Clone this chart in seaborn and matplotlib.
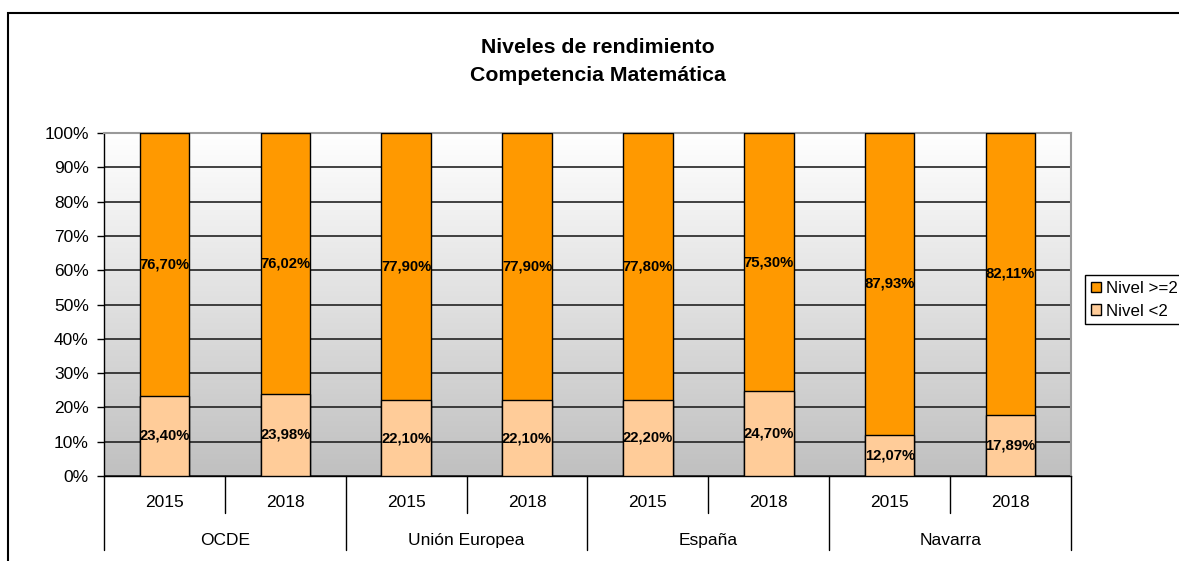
import numpy as np
import pandas as pd
import seaborn as sns
import matplotlib.pyplot as plt
from matplotlib.colors import LinearSegmentedColormap
from matplotlib.patches import Patch, Rectangle
import matplotlib.transforms as mtransforms

# Data
groups = ['OCDE', 'Unión Europea', 'España', 'Navarra']
years = ['2015', '2018']
nivel_bajo = [23.40, 23.98, 22.10, 22.10, 22.20, 24.70, 12.07, 17.89]   # Nivel <2
nivel_alto = [76.70, 76.02, 77.90, 77.90, 77.80, 75.30, 87.93, 82.11]   # Nivel >=2

slots = [g + ' ' + y for g in groups for y in years]
df = pd.DataFrame({'slot': slots, 'bajo': nivel_bajo, 'alto': nivel_alto})
df['total'] = df['bajo'] + df['alto']

sns.set_style('white')
plt.rcParams['font.family'] = ['Liberation Sans', 'DejaVu Sans']
plt.rcParams['text.color'] = 'black'
plt.rcParams['xtick.color'] = 'black'
plt.rcParams['ytick.color'] = 'black'

fig = plt.figure(figsize=(11.79, 5.61), dpi=100)
ax = fig.add_axes([0.0882, 0.1515, 0.8202, 0.6114])

c_alto = '#FF9900'
c_bajo = '#FFCC99'

sns.barplot(data=df, x='slot', y='total', order=slots, color=c_alto, saturation=1,
            width=0.41, edgecolor='black', linewidth=1, ax=ax, zorder=3)
sns.barplot(data=df, x='slot', y='bajo', order=slots, color=c_bajo, saturation=1,
            width=0.41, edgecolor='black', linewidth=1, ax=ax, zorder=3)

ax.set_xlim(-0.5, len(slots) - 0.5)
ax.set_ylim(0, 100)

# gradient plot background
cmap = LinearSegmentedColormap.from_list('bg', ['#FFFFFF', '#C0C0C0'])
ax.imshow(np.linspace(0, 1, 256).reshape(-1, 1), cmap=cmap, aspect='auto',
          extent=[-0.5, len(slots) - 0.5, 0, 100], zorder=0)

ax.set_yticks(np.arange(0, 101, 10))
ax.set_yticklabels([f'{v}%' for v in range(0, 101, 10)], fontsize=12.5)
ax.yaxis.grid(True, color='#222222', linewidth=1.2, zorder=1)
ax.set_axisbelow(True)
ax.tick_params(axis='y', length=5, width=1, color='black', left=True, pad=6)

for s in ['top', 'right']:
    ax.spines[s].set_color('#999999')
    ax.spines[s].set_linewidth(1.5)
ax.spines['left'].set_color('black')
ax.spines['bottom'].set_color('black')
ax.spines['left'].set_linewidth(1)
ax.spines['bottom'].set_linewidth(1)

ax.set_xlabel('')
ax.set_ylabel('')
ax.set_xticks([])

# value labels
for i, (b, a) in enumerate(zip(nivel_bajo, nivel_alto)):
    ax.text(i, b / 2, f'{b:.2f}%'.replace('.', ','), ha='center', va='center',
            fontsize=10.7, fontweight='bold', zorder=5)
    ax.text(i, b + a / 2, f'{a:.2f}%'.replace('.', ','), ha='center', va='center',
            fontsize=10.7, fontweight='bold', zorder=5)

# two-level category axis
trans = mtransforms.blended_transform_factory(ax.transData, ax.transAxes)
for i, s in enumerate(slots):
    ax.text(i, -0.076, s.split(' ')[-1], transform=trans, ha='center', va='center', fontsize=12.5)
for gi, g in enumerate(groups):
    ax.text(gi * 2 + 0.5, -0.187, g, transform=trans, ha='center', va='center', fontsize=12.5)
for k in range(len(slots) + 1):
    x = k - 0.5
    depth = -0.216 if k % 2 == 0 else -0.108
    ax.plot([x, x], [0, depth], transform=trans, color='black', linewidth=1, clip_on=False)

# title
fig.text(0.507, 0.891, 'Niveles de rendimiento\nCompetencia Matemática', ha='center', va='center',
         fontsize=15.3, fontweight='bold', linespacing=1.6)

# legend
handles = [Patch(facecolor=c_alto, edgecolor='black', label='Nivel >=2'),
           Patch(facecolor=c_bajo, edgecolor='black', label='Nivel <2')]
fig.legend(handles=handles, loc='upper left', bbox_to_anchor=(1085 / 1179, 1 - 275 / 561),
           fontsize=12.2, frameon=True, fancybox=False, edgecolor='black', framealpha=1,
           handlelength=0.6, handleheight=0.6, handletextpad=0.3, borderpad=0.35,
           labelspacing=0.45, borderaxespad=0)

# outer chart border
fig.patches.append(Rectangle((8 / 1179, -0.1), 2, 0.977 + 0.1, transform=fig.transFigure,
                             fill=False, edgecolor='black', linewidth=1.5))

plt.savefig('out.png', dpi=100)
